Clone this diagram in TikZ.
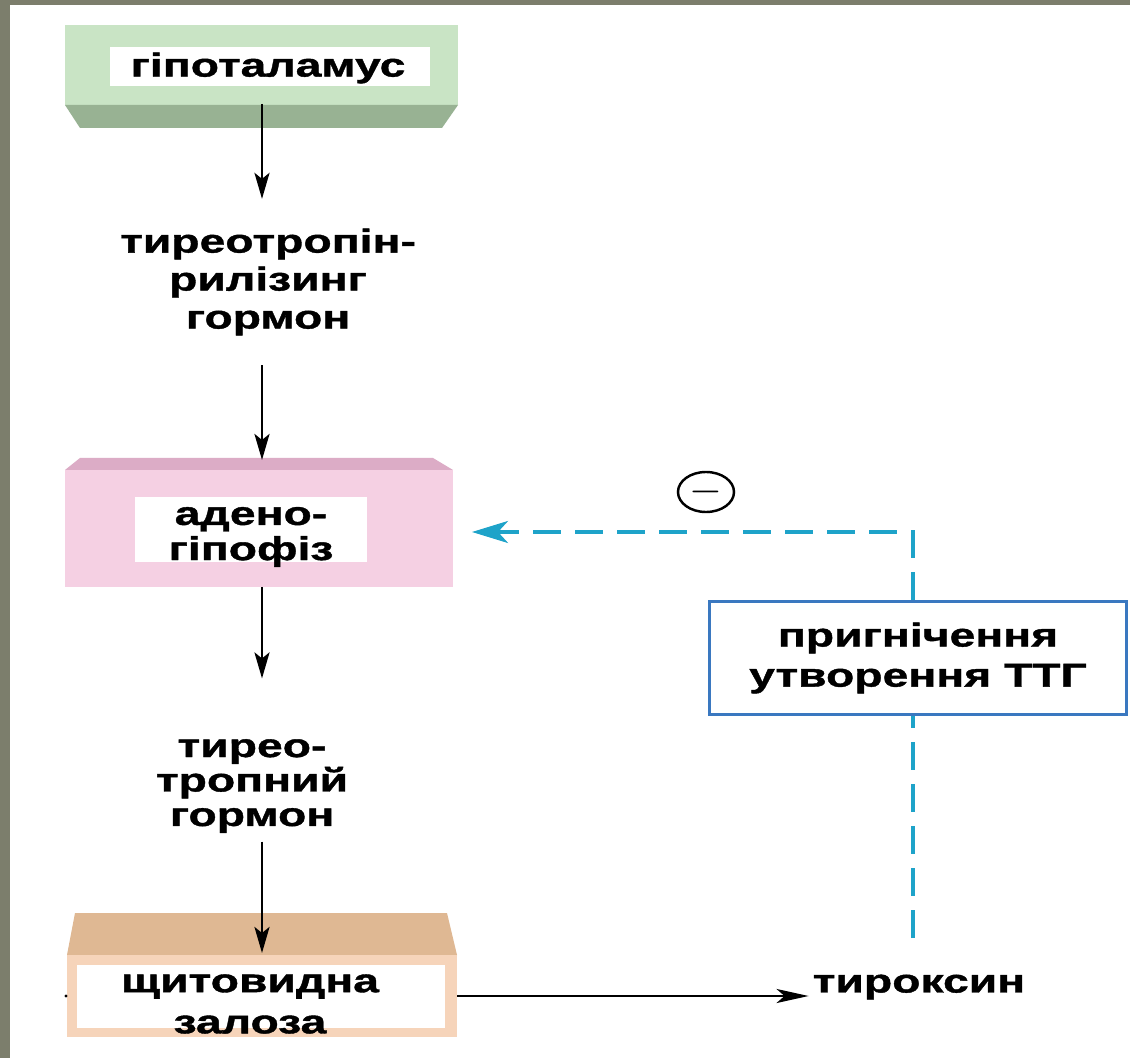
\documentclass[tikz,border=0pt]{standalone}
\usepackage{fontspec}
\usetikzlibrary{arrows.meta,shapes.geometric}
\newfontfamily\lblfont{Liberation Sans}[FakeStretch=1.4,FakeBold=1.2]
\newcommand\lblf[1]{\lblfont\bfseries\fontsize{9.4pt}{#1}\selectfont}
\definecolor{panelbg}{RGB}{124,126,108}
\definecolor{hypface}{RGB}{201,228,197}
\definecolor{hypside}{RGB}{152,178,147}
\definecolor{adface}{RGB}{245,208,227}
\definecolor{adside}{RGB}{220,172,198}
\definecolor{thface}{RGB}{246,212,186}
\definecolor{thside}{RGB}{223,184,147}
\definecolor{inhblue}{RGB}{58,120,192}
\definecolor{fbcyan}{RGB}{30,163,201}
\tikzset{
  lbl/.style={font=\lblf{11pt}, align=center, inner sep=1pt},
  arr/.style={-{Stealth[length=2.6mm,width=1.5mm,inset=0.6mm]}, line width=0.8pt},
  fb/.style={fbcyan, line width=0.9pt, dash pattern=on 2.8mm off 1.4mm},
  fbtip/.style={-{Stealth[length=3.6mm,width=2.2mm,inset=1mm]}},
}

\begin{document}
\begin{tikzpicture}[x=0.01cm, y=-0.01cm]
    \useasboundingbox (0,0) rectangle (1130,1058);
    \fill[panelbg] (0,0) rectangle (1130,1058);
    \fill[white] (10,5) rectangle (1130,1058);
    \fill[hypface] (65,25) rectangle (458,105);
    \fill[hypside] (65,105) -- (458,105) -- (442,128) -- (80,128) -- cycle;
    \fill[white] (110,47) rectangle (430,86);
    \node[lbl] (hyp) at (268,68) {гіпоталамус};
    \coordinate (hypB) at (262,104);
    \node[lbl, font=\lblf{10.8pt}, inner ysep=0.29cm] (trh) at (268,282) {тиреотропін-\\рилізинг\\гормон};
    \draw[arr] (hypB) -- (hypB |- trh.north);
    \fill[adside] (80,458) -- (433,458) -- (453,470) -- (65,470) -- cycle;
    \fill[adface] (65,470) rectangle (453,587);
    \fill[white] (135,497) rectangle (367,562);
    \node[lbl, font=\lblf{10pt}] (aden) at (251,537) {адено-\\гіпофіз};
    \coordinate (adT) at (262,460);
    \coordinate (adB) at (262,587);
    \coordinate (adR) at (472,532);
    \draw[arr] (trh.south -| adT) -- (adT);
    \node[lbl, font=\lblf{9.8pt}, inner ysep=0.08cm] (tth) at (252,786) {тирео-\\тропний\\гормон};
    \draw[arr, shorten >=0.52cm] (adB) -- (adB |- tth.north);
    \fill[thside] (75,913) -- (447,913) -- (457,955) -- (67,955) -- cycle;
    \fill[thface] (67,955) rectangle (457,1037);
    \fill[white] (77,965) rectangle (445,1028);
    \fill (66,996) circle (1.6);
    \node[lbl, font=\lblf{11.7pt}] (thyr) at (250,1004) {щитовидна\\залоза};
    \coordinate (thT) at (262,953);
    \coordinate (thR) at (457,996);
    \draw[arr] (tth.south -| thT) -- (thT);
    \node[lbl] (thyrox) at (919,987) {тироксин};
    \draw[arr, -{Stealth[length=3.2mm,width=1.4mm,inset=0.8mm]}] (thR) -- (thyrox.west |- thR);
    \node[lbl, font=\lblf{11.4pt}, draw=inhblue, line width=0.9pt, minimum width=4.17cm, minimum height=1.13cm] (inh) at (918,658) {пригнічення\\утворення ТТГ};
    \coordinate (fbx) at (913,938);
    \draw[fb] (fbx) -- (fbx |- inh.south);
    \draw[fb, fbtip] (fbx |- inh.north) |- (adR);
    \node[draw, ellipse, line width=0.7pt, minimum width=0.56cm, minimum height=0.4cm, inner sep=0pt, font=\large] (neg) at (706,492) {$-$};
\end{tikzpicture}
\end{document}
